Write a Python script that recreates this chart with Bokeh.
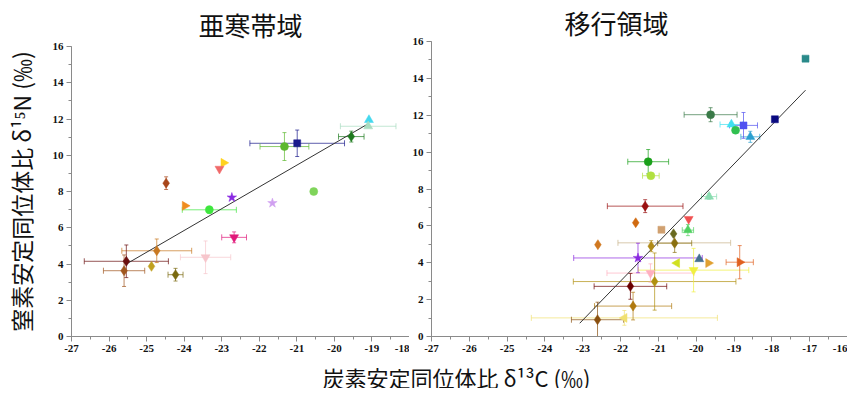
import math
from bokeh.plotting import figure
from bokeh.layouts import row, column
from bokeh.models import (Range1d, SingleIntervalTicker, ColumnDataSource, Whisker,
                          TeeHead, Label, Title, PrintfTickFormatter)
from bokeh.core.properties import field
from bokeh.embed import file_html
from bokeh.resources import INLINE

# ---------------- data: subarctic (left) ----------------
left_title = "亜寒帯域"
left_xlim = [-27, -18]
left_x = [-19.08, -19.10, -19.55, -20.99, -21.33, -22.95, -23.06, -24.48, -20.55, -22.73,
          -21.65, -23.98, -23.33, -22.67, -24.73, -23.43, -25.54, -24.87, -25.60, -24.23]
left_y = [11.95, 11.60, 11.03, 10.66, 10.48, 9.58, 9.25, 8.46, 8.00, 7.67,
          7.36, 7.21, 6.99, 5.47, 4.73, 4.37, 4.15, 3.87, 3.63, 3.41]
left_xerr = [0, 0.74, 0.34, 1.26, 0.65, 0, 0, 0, 0, 0,
             0, 0, 0.72, 0.33, 0.93, 0.67, 1.12, 0, 0.55, 0.20]
left_yerr = [0, 0, 0.30, 0.73, 0.77, 0, 0, 0.35, 0, 0,
             0, 0, 0.20, 0.30, 0.65, 0.90, 0.90, 0, 0.87, 0.35]
left_marker = ["triangle", "triangle", "diamond", "square", "circle", "tri_right", "inverted_triangle",
               "diamond", "circle", "star", "star", "tri_right", "circle", "inverted_triangle",
               "diamond", "inverted_triangle", "diamond", "diamond", "diamond", "diamond"]
left_color = ["#44d8ee", "#a8dcc0", "#1e7a1e", "#1a1a8c", "#5cb82e", "#ffd21f", "#f06a6a",
              "#a8461a", "#7fd45a", "#8a2be2", "#d0a0f0", "#f08c1e", "#3ee63e", "#e0187a",
              "#c87820", "#f7c6cc", "#6b0f0f", "#c0a020", "#a0561e", "#7a6a10"]
left_fit_x = [-25.54, -19.08]
left_fit_y = [4.00, 11.76]

# ---------------- data: transition zone (right) ----------------
right_title = "移行領域"
right_xlim = [-27, -16]
right_x = [-17.11, -17.92, -19.62, -19.07, -18.75, -18.96, -18.57, -21.27, -21.20, -19.66,
           -21.35, -20.20, -21.60, -20.92, -20.60, -20.22, -22.60, -20.58, -20.57, -21.19,
           -21.54, -19.92, -20.51, -19.68, -18.85, -21.21, -20.07, -21.10, -21.74, -21.67,
           -21.90, -22.61]
right_y = [15.07, 11.78, 12.03, 11.50, 11.45, 11.19, 10.83, 9.48, 8.72, 7.59,
           7.07, 6.37, 6.17, 5.79, 5.57, 5.77, 4.98, 5.08, 5.06, 4.90,
           4.26, 4.20, 3.98, 3.98, 4.03, 3.44, 3.60, 2.98, 2.72, 1.65,
           1.01, 0.91]
right_xerr = [0, 0, 0.70, 0.30, 0.37, 0, 0.25, 0.54, 0.22, 0.20,
              1.00, 0, 0, 0, 0, 0.15, 0, 1.49, 0.45, 0,
              1.70, 0, 0, 0, 0.36, 1.15, 1.46, 2.15, 0.96, 1.02,
              2.46, 0.69]
right_yerr = [0, 0, 0.38, 0, 0.70, 0, 0.30, 0.66, 0, 0.15,
              0.35, 0, 0, 0, 0, 0.30, 0, 0, 0.50, 0.30,
              0.80, 0, 0, 0, 0.90, 0.50, 1.18, 1.55, 0.70, 0.75,
              0.40, 0.95]
right_marker = ["square", "square", "circle", "triangle", "square", "circle", "triangle", "circle",
                "circle", "triangle", "diamond", "inverted_triangle", "diamond", "square", "diamond",
                "triangle", "diamond", "diamond", "diamond", "diamond", "star", "triangle",
                "tri_left", "tri_right", "tri_right", "inverted_triangle", "inverted_triangle",
                "diamond", "diamond", "diamond", "tri_left", "diamond"]
right_color = ["#2a8a8a", "#0a0a80", "#3a7a48", "#40e0f0", "#5050f0", "#30c050", "#2aa0d0",
               "#1aa01a", "#b0e040", "#8adcb0", "#9a1010", "#f05050", "#d06a10", "#d0a070",
               "#6a6a20", "#50d060", "#d07820", "#c8b48a", "#8a7010", "#b08a18", "#8a2ae0",
               "#457090", "#d0e020", "#e0a030", "#e06020", "#ffb0c0", "#f0f040", "#b09010",
               "#6a0000", "#b07a10", "#f0e070", "#8a5010"]
right_fit_x = [-23.08, -17.11]
right_fit_y = [0.72, 13.36]

y_lim = [0, 16]
x_label = "炭素安定同位体比 δ¹³C (‰)"
y_label = "窒素安定同位体比 δ¹⁵N (‰)"

CJK = "Noto Sans CJK JP"
TICK_FONT = "Liberation Serif"
TICK_SIZE = "11px"
SIZE = {"circle": 8, "square": 7, "diamond": 10, "star": 10, "triangle": 9,
        "inverted_triangle": 9, "tri_right": 9, "tri_left": 9}
H = 356


def panel(xs, ys, xe, ye, mk, cols, fx, fy, title, xr, width, border_top, border_left,
          border_right, title_offset, title_standoff):
    p = figure(width=width, height=H, x_range=Range1d(*xr), y_range=Range1d(*y_lim),
               toolbar_location=None, output_backend="svg",
               min_border_top=border_top, min_border_bottom=20,
               min_border_left=border_left, min_border_right=border_right)
    p.frame_align = False
    p.outline_line_color = None
    p.grid.grid_line_color = None
    p.title = Title(text=title, align="left", offset=title_offset, vertical_align="bottom",
                    standoff=title_standoff, text_font=CJK, text_font_size="26px",
                    text_font_style="normal", text_color="#111111")
    p.xaxis.ticker = SingleIntervalTicker(interval=1, num_minor_ticks=2)
    p.yaxis.ticker = SingleIntervalTicker(interval=2, num_minor_ticks=2)
    for ax in (p.xaxis, p.yaxis):
        ax.formatter = PrintfTickFormatter(format="%d")
        ax.axis_line_color = "#8a8a8a"
        ax.major_tick_line_color = "#8a8a8a"
        ax.minor_tick_line_color = "#8a8a8a"
        ax.major_tick_out = 5
        ax.major_tick_in = 0
        ax.minor_tick_out = 3
        ax.minor_tick_in = 0
        ax.major_label_text_font = TICK_FONT
        ax.major_label_text_font_style = "bold"
        ax.major_label_text_font_size = TICK_SIZE
        ax.major_label_text_color = "#111111"
        ax.major_label_standoff = 3

    # error bars
    hx = dict(x=[], y=[], lo=[], up=[], c=[])
    vx = dict(x=[], y=[], lo=[], up=[], c=[])
    for x, y, a, b, c in zip(xs, ys, xe, ye, cols):
        if a > 0:
            hx["x"].append(x); hx["y"].append(y); hx["lo"].append(x - a); hx["up"].append(x + a); hx["c"].append(c)
        if b > 0:
            vx["x"].append(x); vx["y"].append(y); vx["lo"].append(y - b); vx["up"].append(y + b); vx["c"].append(c)
    hs = ColumnDataSource(hx)
    vs = ColumnDataSource(vx)
    p.add_layout(Whisker(source=hs, base="y", lower="lo", upper="up", dimension="width",
                         line_color=field("c"), line_alpha=0.7, line_width=1, level="underlay",
                         upper_head=TeeHead(size=6, line_color=field("c"), line_alpha=0.7),
                         lower_head=TeeHead(size=6, line_color=field("c"), line_alpha=0.7)))
    p.add_layout(Whisker(source=vs, base="x", lower="lo", upper="up", dimension="height",
                         line_color=field("c"), line_alpha=0.7, line_width=1, level="underlay",
                         upper_head=TeeHead(size=4, line_color=field("c"), line_alpha=0.7),
                         lower_head=TeeHead(size=4, line_color=field("c"), line_alpha=0.7)))

    # regression line
    p.line(fx, fy, line_color="#333333", line_width=1)

    # markers
    kinds = []
    angles = []
    for m in mk:
        if m == "tri_right":
            kinds.append("triangle"); angles.append(-math.pi / 2)
        elif m == "tri_left":
            kinds.append("triangle"); angles.append(math.pi / 2)
        else:
            kinds.append(m); angles.append(0.0)
    src = ColumnDataSource(dict(x=xs, y=ys, m=kinds, a=angles, c=cols,
                                s=[SIZE[m] for m in mk]))
    p.scatter("x", "y", source=src, marker="m", angle="a", size="s",
              fill_color="c", line_color="c", line_width=0.5)
    return p


p1 = panel(left_x, left_y, left_xerr, left_yerr, left_marker, left_color, left_fit_x, left_fit_y,
           left_title, left_xlim, 409, 46, 61, 0, 127, 7)
p1.yaxis.axis_label = y_label
p1.yaxis.axis_label_text_font = CJK
p1.yaxis.axis_label_text_font_size = "23px"
p1.yaxis.axis_label_text_font_style = "normal"
p1.yaxis.axis_label_text_color = "#111111"
p1.yaxis.axis_label_standoff = 12

p2 = panel(right_x, right_y, right_xerr, right_yerr, right_marker, right_color, right_fit_x,
           right_fit_y, right_title, right_xlim, 438, 40, 21, 0, 133, 2)

p3 = figure(width=847, height=32, toolbar_location=None, output_backend="svg",
            x_axis_location=None, y_axis_location=None, min_border=0,
            x_range=(0, 1), y_range=(0, 1))
p3.outline_line_color = None
p3.grid.grid_line_color = None
p3.add_layout(Label(x=456, y=12, x_units="screen", y_units="screen", text=x_label,
                    text_align="center", text_baseline="middle", text_font=CJK,
                    text_font_size="22px", text_color="#111111"))

layout = column(row(p1, p2), p3)
open("out.html", "w").write(file_html(layout, INLINE))
